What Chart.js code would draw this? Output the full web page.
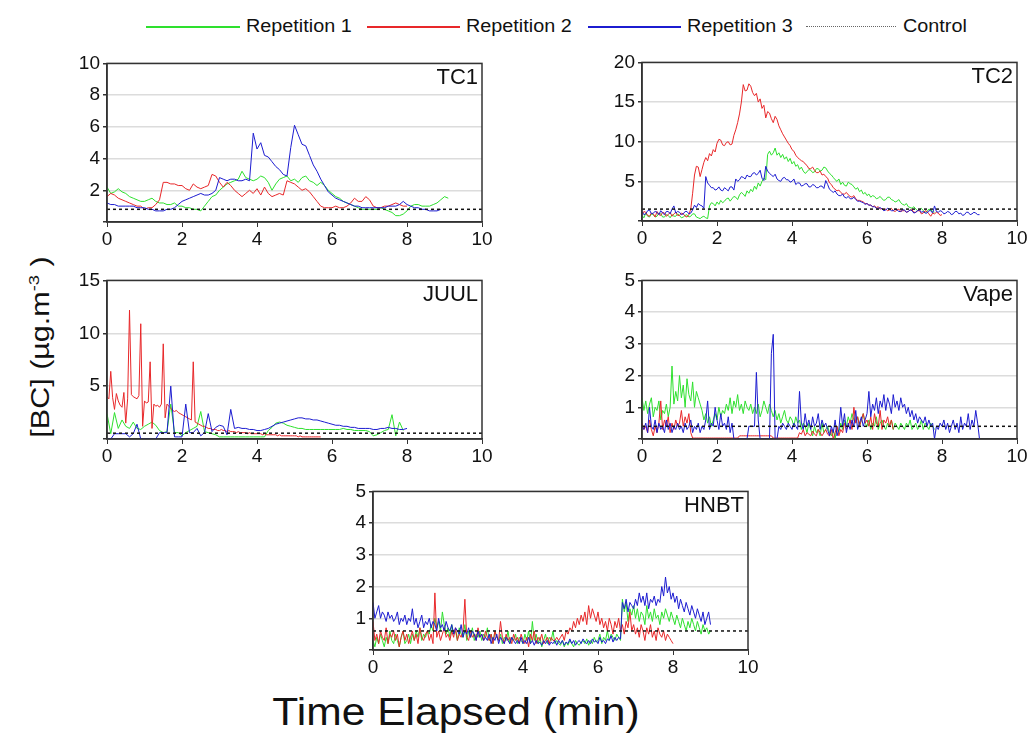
<!DOCTYPE html>
<html>
<head>
<meta charset="utf-8">
<title>BC time series</title>
<script src="https://cdn.jsdelivr.net/npm/chart.js@4.4.1/dist/chart.umd.min.js"></script>
<style>
  body { margin: 0; background: #fff; font-family: "Liberation Sans", Arial, sans-serif; color: #111; }
  #page { position: relative; width: 1030px; height: 733px; overflow: hidden; }
  canvas { position: absolute; }
  .sw { position: absolute; top: 26px; height: 1.5px; }
  .sw.dot { height: 0; border-top: 1.5px dotted #666; }
  .lt { position: absolute; top: 16px; font-size: 18px; white-space: nowrap;
        transform: scaleX(1.1); transform-origin: 0 0; }
  #ytitle { position: absolute; left: 40px; top: 347px; white-space: nowrap; font-size: 25px;
            transform: translate(-50%, -50%) rotate(-90deg) scaleX(1.22); }
  #ytitle sup { font-size: 15px; }
  #xtitle { position: absolute; left: 456px; top: 712px; white-space: nowrap; font-size: 38px;
            transform: translate(-50%, -50%) scaleX(1.12); }
</style>
</head>
<body>
<div id="page">
  <div class="sw" style="left:146px;width:94px;background:#2ee02e"></div>
  <div class="lt" style="left:246px">Repetition 1</div>
  <div class="sw" style="left:367px;width:93px;background:#e8282a"></div>
  <div class="lt" style="left:466px">Repetition 2</div>
  <div class="sw" style="left:588px;width:93px;background:#1c1cd0"></div>
  <div class="lt" style="left:687px">Repetition 3</div>
  <div class="sw dot" style="left:806px;width:90px"></div>
  <div class="lt" style="left:903px">Control</div>
  <div id="ytitle">[BC] (µg.m<sup>-3</sup> )</div>
  <div id="xtitle">Time Elapsed (min)</div>
  <canvas id="tc1" width="437" height="203" style="left:57px;top:49px"></canvas>
  <canvas id="tc2" width="437" height="203" style="left:592px;top:48px"></canvas>
  <canvas id="juul" width="437" height="203" style="left:57px;top:266px"></canvas>
  <canvas id="vape" width="437" height="203" style="left:592px;top:266px"></canvas>
  <canvas id="hnbt" width="437" height="203" style="left:323px;top:477px"></canvas>
</div>
<script>
// series names + colours
const seriesNames = ['Repetition 1', 'Repetition 2', 'Repetition 3'];
const seriesColors = ['#2ee02e', '#e8282a', '#1c1cd0'];

// ---- TC1 (sampled every 0.1 min) ----
const tc1Rep1 = [2.2,1.8,1.9,2.1,1.9,1.8,1.6,1.5,1.4,1.3, 1.3,1.4,1.5,1.3,1.2,1.2,1.1,1.1,1.2,1.0,
  1.0,0.9,0.9,0.8,0.8,0.7,1.0,1.3,1.6,1.7, 2.0,2.2,2.4,2.5,2.6,2.7,3.2,2.8,2.7,2.6,
  2.7,2.9,2.8,2.5,2.0,2.4,2.7,2.8,2.9,2.6, 2.7,2.5,2.8,2.9,2.6,2.5,2.3,2.5,2.3,2.0,
  1.8,1.6,1.5,1.3,1.2,1.1,1.0,0.9,0.8,0.8, 0.8,0.8,0.8,0.9,0.8,0.7,0.6,0.4,0.4,0.5,
  0.7,1.0,1.1,1.1,1.0,1.0,1.0,1.1,1.2,1.4, 1.6,1.5];
const tc1Rep2 = [1.6,1.8,1.7,1.5,1.4,1.3,1.2,1.1,1.0,1.0, 0.8,0.9,0.9,1.1,1.4,2.5,2.5,2.4,2.4,2.3,
  2.3,2.1,2.0,2.4,2.2,2.1,2.2,2.3,3.0,2.9, 2.5,2.2,2.5,2.3,2.0,1.8,1.6,1.8,2.0,1.8,
  2.1,1.7,2.2,1.8,1.6,1.7,1.8,1.7,2.6,2.5, 2.4,2.2,2.0,2.1,1.9,1.6,1.3,1.0,0.9,0.9,
  0.9,1.0,0.9,0.9,1.0,1.2,1.5,1.3,1.3,1.6, 1.4,1.0,0.9,0.9,1.0,1.0,1.1,1.2,1.1,1.0, 1.0];
const tc1Rep3 = [1.2,1.1,1.1,1.0,1.0,1.0,1.0,1.0,0.9,0.9, 0.9,0.8,0.8,0.7,0.7,0.7,0.8,0.8,0.9,1.1,
  1.3,1.4,1.5,1.6,1.7,1.8,1.7,1.7,1.8,2.0, 2.8,2.7,2.6,2.7,2.7,2.6,2.6,2.7,2.6,5.6,
  4.6,5.0,4.2,4.1,3.8,3.5,3.3,3.0,2.9,4.7, 6.1,5.5,4.9,4.8,4.2,3.6,3.2,2.7,2.3,1.9,
  1.7,1.5,1.4,1.3,1.2,1.1,1.0,1.0,0.9,0.9, 0.9,0.9,0.9,0.9,0.9,1.0,1.0,1.0,1.1,1.3,
  1.1,1.0,0.9,0.9,0.8,0.8,0.7,0.7,0.7,0.8];
const tc1Control = 0.8;

// ---- TC2 (every 0.05 min) ----
const tc2Rep1 = [0.7,0.4,1.0,0.6,0.5,0.9,0.8,0.5,0.6,1.0, 0.9,0.5,0.5,0.8,0.7,0.4,0.8,0.6,0.6,0.9,
  0.7,0.4,0.5,0.7,0.8,0.5,0.6,0.9,0.9,0.5, 0.4,0.3,0.5,0.6,0.4,0.3,1.9,2.3,2.2,1.9,
  2.4,2.1,2.6,2.3,2.5,2.8,2.9,2.5,2.8,3.1, 3.0,2.7,3.3,3.6,3.4,3.1,3.8,3.5,4.0,3.7,
  4.4,4.0,4.8,4.4,5.0,5.4,5.2,8.4,8.8,8.3, 8.6,9.2,8.3,8.6,8.0,8.4,7.8,8.1,7.5,7.9,
  7.2,7.5,6.9,7.1,6.5,6.8,6.3,6.0,6.2,6.5, 6.4,6.1,6.2,6.6,6.6,6.3,6.4,6.8,6.7,6.3,
  6.0,5.8,5.5,5.2,5.0,5.3,4.6,4.9,4.5,4.4, 4.9,4.7,4.6,4.3,4.0,4.2,3.7,3.9,3.4,3.6,
  3.2,3.4,3.0,3.2,3.1,2.8,2.9,3.1,2.8,2.6, 2.7,3.0,3.0,2.7,2.6,2.4,2.5,2.7,2.3,2.1,
  2.0,2.2,1.8,1.7,1.6,1.8,1.5,1.3,1.4,1.6, 1.3,1.1,1.2,1.5,1.4,1.2,1.1];
const tc2Rep2 = [0.8,1.2,1.1,0.7,0.6,1.0,0.9,0.5,1.2,0.8, 0.7,1.1,1.0,0.6,0.8,1.1,0.6,0.9,1.1,0.7,
  0.7,1.0,0.9,0.6,0.5,0.8,1.5,3.5,5.8,6.9, 6.8,5.6,6.5,7.4,8.0,7.6,8.5,8.2,9.0,8.7,
  9.8,10.3,10.2,9.6,9.5,9.9,10.0,9.6,9.7,10.8, 11.5,12.4,13.5,15.0,17.2,16.4,16.5,17.3,17.0,16.2,
  15.8,16.1,15.0,15.4,14.2,14.6,13.0,13.8,13.6,12.9, 12.4,13.2,12.8,12.0,11.5,11.0,10.6,10.2,9.8,9.5,
  9.0,8.8,8.3,8.0,7.8,7.6,7.5,7.2,7.0,6.6, 6.6,6.8,6.4,6.1,6.1,6.3,5.8,5.9,5.6,5.4,
  4.8,4.6,4.2,4.0,3.8,3.9,3.6,3.4,3.4,3.6, 3.3,3.1,3.0,3.2,2.8,2.6,2.6,2.5,2.4,2.2,
  2.2,2.0,2.0,1.8,1.9,1.7,1.8,1.5,1.6,1.4, 1.5,1.3,1.4,1.6,1.3,1.2,1.4,1.5,1.2,1.3,
  1.3,1.1,1.2,1.4,1.4,1.1,1.1,1.3,1.3,0.9, 1.0,1.3,1.2,0.9,0.6,1.0,0.9,1.1,1.0,0.7, 0.8];
const tc2Rep3 = [1.2,0.8,0.9,1.3,1.4,0.9,1.0,1.2,1.1,0.8, 1.3,1.0,0.8,1.2,1.2,0.9,1.5,1.9,1.0,1.2,
  1.1,0.8,0.9,1.2,1.2,0.9,1.0,1.4,2.0,1.7, 2.2,2.0,1.9,1.6,5.6,4.8,4.5,4.2,4.2,3.9,
  4.0,4.3,3.9,3.8,4.2,4.0,3.8,4.3,4.3,3.9, 5.3,5.0,5.2,5.6,5.5,5.3,5.8,5.6,5.6,6.0,
  6.1,5.8,6.0,6.4,5.4,5.1,6.9,6.3,6.0,5.8, 5.6,5.9,5.3,5.1,5.0,5.4,5.5,5.2,5.2,4.9,
  5.0,5.3,4.6,4.8,4.8,4.4,4.5,4.7,4.7,4.3, 4.3,4.6,4.5,4.2,4.2,4.4,4.4,4.1,5.1,4.6,
  4.0,3.8,3.6,3.8,3.4,3.2,3.2,3.4,3.0,2.9, 3.1,2.8,2.8,3.0,2.7,2.5,2.5,2.4,2.3,2.1,
  2.2,2.0,2.0,1.8,1.8,1.6,1.6,1.7,1.5,1.3, 1.4,1.6,1.5,1.3,1.3,1.5,1.4,1.2,1.2,1.4,
  1.4,1.1,1.2,1.4,1.3,1.0,1.1,1.3,1.4,1.1, 1.2,1.0,1.0,1.3,1.3,1.0,1.9,1.2,1.1,1.3,
  1.2,0.9,1.0,1.2,1.1,0.8,0.9,1.2,1.2,0.9, 1.0,0.7,0.8,1.1,1.1,0.8,0.9,1.1,1.0,0.8, 0.8];
const tc2Control = 1.5;

// ---- JUUL (rep 2 every 0.05 min, others every 0.1 min) ----
const juulRep1 = [2.4,0.5,2.5,1.0,1.8,1.2,1.0,1.6,1.0,0.9, 1.2,1.4,1.6,1.3,0.8,0.6,0.7,3.3,0.6,0.6,
  0.3,0.6,0.8,1.0,1.2,2.6,0.7,0.6,0.5,0.4, 0.2,0.2,0.2,0.2,0.2,0.2,0.2,0.2,0.2,0.2,
  0.2,0.2,0.2,0.8,1.1,1.5,1.6,1.5,1.3,1.2, 1.1,1.0,1.0,0.9,0.9,0.9,0.9,0.9,0.9,0.9,
  0.9,0.9,0.9,1.0,0.9,0.9,0.8,0.8,0.8,0.8, 0.7,0.3,0.4,0.6,0.8,0.9,2.3,0.3,1.6,0.8];
const juulRep2 = [4.0,3.8,6.4,3.9,2.8,4.3,3.6,3.2,3.0,4.4, 1.5,3.8,12.2,4.2,4.0,3.9,3.8,4.1,10.9,1.2,
  3.6,3.4,3.5,7.3,1.0,3.3,3.1,3.2,3.0,3.3, 9.0,2.0,3.3,3.1,2.9,2.7,2.6,2.7,2.5,2.4,
  2.3,2.2,2.1,2.0,1.9,1.8,7.3,1.6,1.5,1.4, 1.3,1.2,1.2,1.1,1.0,1.0,0.9,0.9,0.9,0.8,
  0.8,0.9,0.8,0.8,0.7,0.8,0.7,0.7,0.7,0.6, 0.7,0.6,0.6,0.6,0.6,0.5,0.6,0.5,0.5,0.5,
  0.5,0.5,0.5,0.4,0.5,0.4,0.4,0.4,0.4,0.4, 0.4,0.3,0.4,0.3,0.3,0.3,0.3,0.3,0.3,0.3,
  0.3,0.3,0.2,0.3,0.2,0.2,0.2,0.2,0.2,0.2, 0.2,0.2,0.2,0.2,0.2];
const juulRep3 = [0.0,0.0,0.5,0.5,0.5,0.5,0.2,0.5,1.4,0.0, 0.0,0.0,0.0,0.0,0.6,0.6,0.6,5.0,0.2,0.2,
  0.2,3.3,0.6,0.6,1.0,0.3,0.6,2.4,0.7,1.1, 1.3,1.2,0.4,2.8,1.0,1.1,1.0,1.0,0.9,0.9,
  0.8,0.8,0.9,1.0,1.2,1.4,1.5,1.6,1.7,1.8, 1.9,2.0,2.0,1.9,1.9,1.8,1.8,1.7,1.6,1.5,
  1.4,1.3,1.3,1.2,1.2,1.1,1.1,1.0,1.0,1.0, 1.0,0.9,0.9,1.0,1.0,1.1,1.0,1.0,0.9,0.9, 1.0];
const juulControl = 0.55;

// ---- Vape (every 0.05 min) ----
const vapeRep1 = [1.3,0.9,1.2,0.8,1.1,1.3,0.7,1.0,0.9,1.2, 0.6,0.9,0.8,1.1,0.7,1.0,2.3,1.1,1.5,1.2,
  2.0,1.3,1.7,1.0,1.9,1.4,1.2,1.8,1.0,1.5, 1.3,1.1,0.9,0.6,0.8,0.5,0.7,0.4,0.6,0.8,
  0.6,1.0,0.7,0.9,0.8,1.1,0.9,1.3,0.8,1.2, 1.0,1.4,0.9,1.1,0.8,1.2,1.0,0.9,1.1,0.8,
  1.0,0.8,1.1,0.7,0.9,1.2,1.0,0.8,1.1,0.9, 0.7,0.9,0.6,0.8,0.5,0.7,0.9,0.6,0.5,0.7,
  0.6,0.4,0.7,0.5,0.6,0.3,0.5,0.4,0.2,0.5, 0.3,0.1,0.4,0.2,0.3,0.1,0.5,0.2,0.3,0.4,
  0.2,0.1,0.3,0.0,0.4,0.2,0.5,0.3,0.6,0.4, 0.7,0.5,0.8,0.6,0.5,0.7,0.4,0.6,0.8,0.5,
  0.4,0.6,0.3,0.5,0.4,0.7,0.3,0.5,0.6,0.4, 0.3,0.5,0.4,0.6,0.3,0.5,0.4,0.3,0.5,0.4,
  0.3,0.5,0.4,0.6,0.3,0.4,0.5,0.3,0.4,0.6, 0.3,0.5,0.4,0.3,0.5,0.4,0.3];
const vapeRep2 = [0.5,0.3,0.4,0.2,0.6,0.3,0.1,0.4,0.2,0.5, 1.2,0.3,0.6,0.4,0.7,0.2,0.5,0.3,0.6,0.4,
  0.5,0.9,0.4,0.7,0.5,0.8,0.2,0.03,0.03,0.03, 0.03,0.03,0.03,0.03,0.03,0.03,0.03,0.03,0.03,0.03,
  0.03,0.03,0.03,0.03,0.03,0.03,0.03,0.03,0.03,0.03, 0.03,0.03,0.1,0.1,0.1,0.1,0.1,0.1,0.1,0.1,
  0.1,0.1,0.1,0.1,0.1,0.1,0.1,0.1,0.1,0.1, 0.03,0.03,0.03,0.03,0.03,0.03,0.03,0.03,0.03,0.03,
  0.03,0.03,0.03,0.03,0.2,0.15,0.3,0.1,0.2,0.15, 0.1,0.25,0.15,0.1,0.3,0.2,0.1,0.2,0.3,0.15,
  0.1,0.3,0.0,0.2,0.4,0.1,0.3,0.2,0.5,0.3, 0.4,0.6,0.3,1.0,0.5,0.7,0.4,0.6,0.8,0.5,
  0.6,0.4,0.7,0.3,0.8,0.5,0.4,0.9,0.3,0.6, 0.5,0.7,0.4,0.6,0.3];
const vapeRep3 = [0.4,0.3,0.5,0.2,1.0,0.4,0.3,0.6,0.2,0.5, 0.3,0.4,0.2,0.6,0.3,0.5,0.2,0.4,0.3,0.5,
  0.3,0.4,0.2,0.5,0.3,0.4,0.6,0.2,0.4,0.3, 0.5,0.2,0.4,0.3,0.6,1.2,0.3,0.5,0.4,1.0,
  0.6,0.3,0.8,0.4,0.5,0.3,0.7,0.2,0.5,0.0, 0.0,0.0,0.0,0.0,0.0,0.0,0.0,0.4,0.4,0.4,
  0.4,2.1,0.6,0.0,0.0,0.0,0.0,0.0,0.0,2.7, 3.3,0.0,0.0,0.4,0.3,0.5,0.4,0.3,0.5,0.4,
  0.3,0.5,0.4,0.3,1.5,0.5,0.3,0.8,0.4,0.6, 0.3,0.7,0.4,0.5,0.8,0.3,0.6,0.4,0.5,0.3,
  0.1,0.4,0.2,0.6,0.1,0.3,1.0,0.4,0.8,0.2, 0.5,0.3,0.6,0.4,0.9,0.3,0.5,0.7,0.4,0.6,
  0.8,1.5,0.7,1.1,0.9,1.3,0.8,1.2,1.0,1.4, 0.9,1.3,1.1,0.8,1.4,1.0,1.2,0.9,1.3,1.0,
  1.1,0.8,1.0,0.7,0.9,0.6,0.8,0.5,0.7,0.6, 0.5,0.7,0.4,0.6,0.4,0.5,0.0,0.4,0.3,0.5,
  0.4,0.6,0.3,0.5,0.2,0.4,0.6,0.3,0.5,0.2, 0.7,0.3,0.5,0.4,0.8,0.3,0.6,0.4,0.9,0.5, 0.0];
const vapeControl = 0.4;

// ---- HNBT (every 0.05 min) ----
const hnbtRep1 = [0.3,0.1,0.4,0.2,0.5,0.3,0.1,0.4,0.2,0.6, 0.3,0.2,0.5,0.3,0.1,0.4,0.6,0.2,0.3,0.5,
  0.2,0.5,0.3,0.6,0.4,0.7,0.3,0.5,0.4,0.6, 0.5,0.8,0.6,1.0,0.7,0.9,0.6,1.2,0.8,0.5,
  0.7,0.4,0.8,0.5,0.6,0.3,0.7,0.5,0.4,0.8, 0.3,0.6,0.4,0.7,0.3,0.5,0.4,0.6,0.3,0.5,
  0.4,0.7,0.3,0.5,0.2,0.6,0.4,0.3,0.5,0.2, 0.4,0.3,0.6,0.2,0.4,0.3,0.5,0.2,0.4,0.3,
  0.2,0.5,0.3,0.6,0.2,0.9,0.3,0.5,0.2,0.4, 0.1,0.3,0.5,0.2,0.4,0.3,0.6,0.2,0.3,0.2,
  0.15,0.3,0.1,0.25,0.15,0.3,0.2,0.1,0.3,0.2, 0.15,0.25,0.3,0.2,0.35,0.15,0.3,0.2,0.4,0.25,
  0.3,0.5,0.2,0.4,0.3,0.6,0.3,0.5,0.4,0.3, 0.5,0.4,0.3,1.6,1.2,1.5,0.9,1.3,1.1,1.4,
  1.0,1.3,0.9,1.2,1.1,0.8,1.4,1.0,1.2,0.9, 1.3,1.0,1.1,0.8,1.2,1.0,1.3,1.1,0.9,1.2,
  1.0,0.8,1.1,0.9,0.7,1.0,0.8,0.6,0.9,0.7, 1.0,0.8,0.6,0.9,0.7,0.5,0.8,0.6,0.7,0.5, 0.6];
const hnbtRep2 = [0.9,0.3,0.5,0.2,0.6,0.4,0.3,0.7,0.2,0.5, 0.4,0.6,0.3,0.5,0.1,0.4,0.6,0.3,0.5,0.2,
  0.4,0.6,0.3,0.5,0.2,0.7,0.4,0.3,0.5,0.6, 0.3,0.5,0.2,1.8,0.4,0.6,0.3,0.5,0.7,0.4,
  0.5,0.3,0.6,0.4,0.7,0.3,0.5,0.4,0.6,1.6, 0.4,0.3,0.6,0.4,0.5,0.3,0.7,0.4,0.5,0.3,
  0.6,0.4,0.3,0.5,0.2,0.6,0.4,0.3,0.9,0.4, 0.2,0.5,0.3,0.4,0.2,0.5,0.3,0.4,0.2,0.5,
  0.3,0.2,0.4,0.1,0.5,0.3,0.6,0.2,0.4,0.3, 0.5,0.2,0.3,0.4,0.2,0.4,0.3,0.3,0.4,0.3,
  0.4,0.5,0.3,0.6,0.5,0.7,0.6,0.9,0.7,1.0, 0.8,1.1,0.9,1.2,0.8,1.4,1.0,1.3,1.1,0.9,
  1.2,0.8,1.0,0.7,0.9,0.6,1.0,0.8,0.5,0.9, 0.7,1.0,0.6,0.8,0.5,0.9,0.7,1.2,0.6,0.8,
  0.5,0.7,0.4,0.8,0.6,0.3,0.7,0.5,0.8,0.4, 0.6,0.3,0.7,0.5,0.4,0.6,0.3,0.5,0.4,0.3, 0.2];
const hnbtRep3 = [1.5,1.0,1.2,1.4,1.0,1.2,1.1,0.9,1.2,1.0, 1.1,0.9,1.0,1.2,0.8,1.0,0.9,1.1,0.8,1.0,
  0.9,1.3,0.8,1.0,0.7,0.9,1.1,0.7,0.9,0.8, 1.0,0.7,0.9,0.8,0.6,1.0,0.7,0.8,0.6,0.9,
  0.7,0.6,0.8,0.5,0.7,0.6,0.5,0.8,0.4,0.6, 0.5,0.7,0.4,0.6,0.5,0.3,0.6,0.4,0.5,0.3,
  0.4,0.3,0.5,0.2,0.4,0.3,0.5,0.2,0.4,0.3, 0.2,0.4,0.3,0.2,0.4,0.3,0.2,0.3,0.2,0.4,
  0.2,0.3,0.2,0.4,0.2,0.3,0.15,0.3,0.2,0.25, 0.15,0.3,0.2,0.3,0.15,0.25,0.2,0.3,0.15,0.3,
  0.2,0.3,0.15,0.25,0.2,0.35,0.2,0.3,0.15,0.25, 0.3,0.2,0.35,0.25,0.2,0.3,0.2,0.35,0.25,0.3,
  0.2,0.4,0.25,0.3,0.2,0.35,0.3,0.45,0.25,0.4, 0.3,0.4,0.35,1.5,1.3,1.6,1.2,1.5,1.4,1.3,
  1.6,1.4,1.8,1.5,1.7,1.4,1.8,1.3,1.6,1.5, 1.7,1.4,1.6,1.5,2.0,1.7,2.3,1.8,2.0,1.6,
  1.8,1.5,1.7,1.3,1.6,1.4,1.2,1.5,1.3,1.1, 1.4,1.2,1.0,1.3,1.1,0.9,1.2,0.8,1.0,1.2, 0.8];
const hnbtControl = 0.6;

const xTicks = [0, 2, 4, 6, 8, 10];

// frame round the plot area + panel name in the top right corner
const framePlugin = {
  id: 'frame',
  afterDraw(chart, args, opts) {
    const { ctx, chartArea: a } = chart;
    ctx.save();
    ctx.strokeStyle = '#333';
    ctx.lineWidth = 1.5;
    ctx.strokeRect(a.left, a.top, a.right - a.left, a.bottom - a.top);
    ctx.font = '22px "Liberation Sans", Arial, sans-serif';
    ctx.fillStyle = '#111';
    ctx.textAlign = 'right';
    ctx.textBaseline = 'alphabetic';
    ctx.fillText(opts.name, a.right - 4, a.top + 21);
    ctx.restore();
  }
};

function toPoints(vals, dt) {
  return vals.map((v, i) => ({ x: Math.round(i * dt * 100) / 100, y: v }));
}

function makePanel(id, name, yMax, yStep, reps, dts, control) {
  const datasets = [{
    label: 'Control',
    data: [{ x: 0, y: control }, { x: 10, y: control }],
    borderColor: '#111', borderWidth: 1.5, borderDash: [3, 3],
    pointRadius: 0, order: 0
  }];
  // blue drawn above red, red above green
  [2, 1, 0].forEach((k, n) => {
    datasets.push({
      label: seriesNames[k],
      data: toPoints(reps[k], dts[k]),
      borderColor: seriesColors[k],
      borderWidth: 1,
      pointRadius: 0,
      tension: 0,
      order: n + 1
    });
  });

  const tickFont = { size: 19, family: '"Liberation Sans", Arial' };
  new Chart(document.getElementById(id), {
    type: 'line',
    data: { datasets },
    options: {
      responsive: false,
      animation: false,
      layout: { padding: { top: 12, right: 12, left: 0, bottom: 0 } },
      plugins: { legend: { display: false }, tooltip: { enabled: false }, frame: { name } },
      scales: {
        x: {
          type: 'linear', min: 0, max: 10,
          afterBuildTicks: s => { s.ticks = xTicks.map(v => ({ value: v })); },
          afterFit: s => { s.height = 30; },
          grid: { drawOnChartArea: false, color: '#333', tickLength: 5 },
          border: { color: '#333', width: 1.5 },
          ticks: { color: '#111', font: tickFont, padding: 1, maxRotation: 0 }
        },
        y: {
          min: 0, max: yMax,
          afterFit: s => { s.width = 50; },
          grid: { color: '#dcdcdc', lineWidth: 1.5, tickColor: '#333', tickLength: 4 },
          border: { color: '#333', width: 1.5 },
          ticks: {
            stepSize: yStep, color: '#111', padding: 3, font: tickFont,
            callback: v => (v === 0 ? '' : v)
          }
        }
      }
    },
    plugins: [framePlugin]
  });
}

makePanel('tc1', 'TC1', 10, 2, [tc1Rep1, tc1Rep2, tc1Rep3], [0.1, 0.1, 0.1], tc1Control);
makePanel('tc2', 'TC2', 20, 5, [tc2Rep1, tc2Rep2, tc2Rep3], [0.05, 0.05, 0.05], tc2Control);
makePanel('juul', 'JUUL', 15, 5, [juulRep1, juulRep2, juulRep3], [0.1, 0.05, 0.1], juulControl);
makePanel('vape', 'Vape', 5, 1, [vapeRep1, vapeRep2, vapeRep3], [0.05, 0.05, 0.05], vapeControl);
makePanel('hnbt', 'HNBT', 5, 1, [hnbtRep1, hnbtRep2, hnbtRep3], [0.05, 0.05, 0.05], hnbtControl);
</script>
</body>
</html>
